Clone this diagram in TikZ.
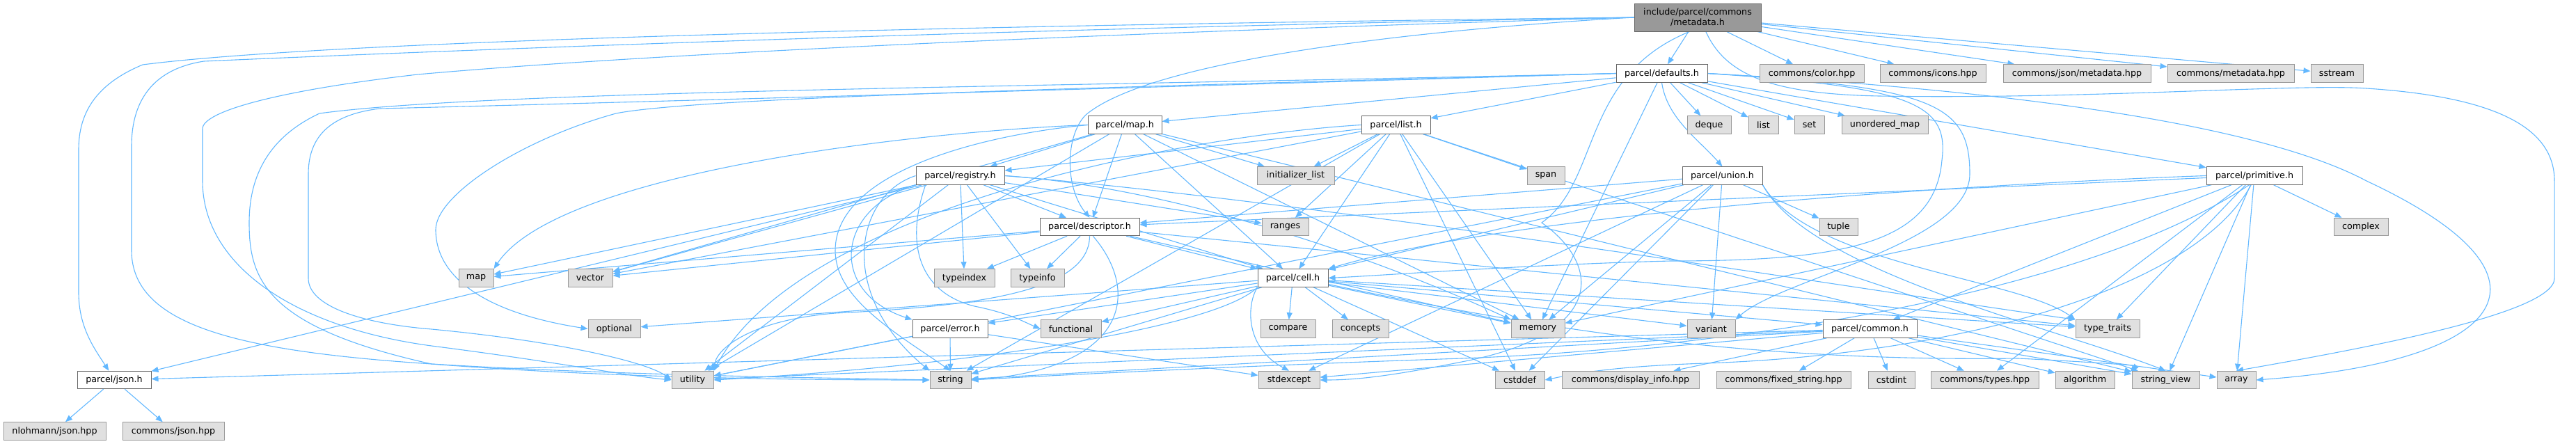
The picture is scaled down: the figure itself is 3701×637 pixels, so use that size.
\documentclass[tikz,border=0pt]{standalone}
\usepackage{fontspec}
\setmainfont{DejaVu Sans}
\usetikzlibrary{arrows.meta}
\pgfdeclarelayer{bg}
\pgfsetlayers{bg,main}
\definecolor{edgec}{HTML}{63B8FF}
\definecolor{sysfill}{HTML}{E0E0E0}
\definecolor{sysdraw}{HTML}{999999}
\definecolor{hdrdraw}{HTML}{666666}
\definecolor{rootfill}{HTML}{999999}
\newcommand\nfont{\fontsize{12.7}{15}\selectfont}
\tikzset{
 box/.style={rectangle, line width=1pt, minimum height=25.5pt, inner sep=0pt, font=\nfont, text=black},
 hdr/.style={box, draw=hdrdraw, fill=white},
 sys/.style={box, draw=sysdraw, fill=sysfill},
 rootbox/.style={box, draw=hdrdraw, fill=rootfill, align=center, minimum height=40pt},
 dep/.style={draw=edgec, line width=1.1pt, -{Triangle[length=10pt,width=8pt]}},
}
\begin{document}
\begin{tikzpicture}[x=1pt,y=-1pt]
\useasboundingbox (0,0) rectangle (3701,637);
% rank 0
\node[rootbox, minimum width=182pt] (M) at (2439,25) {include/parcel/commons\\/metadata.h};
% rank 1
\node[hdr, minimum width=131pt] (D) at (2387.5,105.5) {parcel/defaults.h};
\node[sys, minimum width=150pt] (color) at (2603,105.5) {commons/color.hpp};
\node[sys, minimum width=152pt] (icons) at (2777,105.5) {commons/icons.hpp};
\node[sys, minimum width=212pt] (jsonmeta) at (2984,105.5) {commons/json/metadata.hpp};
\node[sys, minimum width=182pt] (cmeta) at (3205,105.5) {commons/metadata.hpp};
\node[sys, minimum width=75pt] (sstream) at (3357.5,105.5) {sstream};
% rank 2
\node[hdr, minimum width=106pt] (maph) at (1616,179.5) {parcel/map.h};
\node[hdr, minimum width=99pt] (listh) at (2005.5,179.5) {parcel/list.h};
\node[sys, minimum width=63pt] (deque) at (2455.5,179.5) {deque};
\node[sys, minimum width=43pt] (list) at (2533.5,179.5) {list};
\node[sys, minimum width=43pt] (set) at (2599.5,179.5) {set};
\node[sys, minimum width=124pt] (umap) at (2708,179.5) {unordered\_map};
% rank 3
\node[hdr, minimum width=127pt] (registry) at (1379.5,252.5) {parcel/registry.h};
\node[sys, minimum width=111pt] (initlist) at (1861.5,252.5) {initializer\_list};
\node[sys, minimum width=54pt] (span) at (2221,252.5) {span};
\node[hdr, minimum width=115pt] (union) at (2474.5,252.5) {parcel/union.h};
\node[hdr, minimum width=138pt] (primitive) at (3239,252.5) {parcel/primitive.h};
% rank 4
\node[hdr, minimum width=143pt] (descriptor) at (1565.5,326) {parcel/descriptor.h};
\node[sys, minimum width=67pt] (ranges) at (1846.5,326) {ranges};
\node[sys, minimum width=55pt] (tuple) at (2641.5,326) {tuple};
\node[sys, minimum width=78pt] (complex) at (3392,326) {complex};
% rank 5
\node[sys, minimum width=50pt] (stdmap) at (684,399.5) {map};
\node[sys, minimum width=64pt] (vector) at (848,399.5) {vector};
\node[sys, minimum width=87pt] (typeindex) at (1385.5,399.5) {typeindex};
\node[sys, minimum width=77pt] (typeinfo) at (1490.5,399.5) {typeinfo};
\node[hdr, minimum width=101pt] (cell) at (1857.5,399.5) {parcel/cell.h};
% rank 6
\node[sys, minimum width=75pt] (optional) at (882.5,472.5) {optional};
\node[hdr, minimum width=108pt] (error) at (1365,472.5) {parcel/error.h};
\node[sys, minimum width=87pt] (functional) at (1538.5,472.5) {functional};
\node[sys, minimum width=79pt] (compare) at (1850.5,472.5) {compare};
\node[sys, minimum width=81pt] (concepts) at (1954.5,472.5) {concepts};
\node[sys, minimum width=77pt] (memory) at (2209.5,472.5) {memory};
\node[sys, minimum width=69pt] (variant) at (2458.5,472.5) {variant};
\node[hdr, minimum width=135pt] (common) at (2686.5,472.5) {parcel/common.h};
\node[sys, minimum width=92pt] (typetraits) at (3028,472.5) {type\_traits};
% rank 7
\node[hdr, minimum width=106pt] (json) at (164,546) {parcel/json.h};
\node[sys, minimum width=60pt] (utility) at (995,546) {utility};
\node[sys, minimum width=59pt] (string) at (1365.5,546) {string};
\node[sys, minimum width=88pt] (stdexcept) at (1852,546) {stdexcept};
\node[sys, minimum width=71pt] (cstddef) at (2183.5,546) {cstddef};
\node[sys, minimum width=197pt] (display) at (2342.5,546) {commons/display\_info.hpp};
\node[sys, minimum width=193pt] (fixed) at (2562.5,546) {commons/fixed\_string.hpp};
\node[sys, minimum width=67pt] (cstdint) at (2717.5,546) {cstdint};
\node[sys, minimum width=155pt] (types) at (2851.5,546) {commons/types.hpp};
\node[sys, minimum width=85pt] (algorithm) at (2995.5,546) {algorithm};
\node[sys, minimum width=97pt] (stringview) at (3111.5,546) {string\_view};
\node[sys, minimum width=56pt] (array) at (3213,546) {array};
% rank 8
\node[sys, minimum width=147pt] (nlohmann) at (78.5,619.5) {nlohmann/json.hpp};
\node[sys, minimum width=146pt] (cjson) at (249,619.5) {commons/json.hpp};

\begin{pgfonlayer}{bg}
\foreach \a/\b in {M/D, M/color, M/icons, M/jsonmeta, M/cmeta, M/sstream,
 D/maph, D/listh, D/deque, D/list, D/set, D/umap, D/primitive, D/memory,
 maph/registry, maph/initlist, maph/descriptor, maph/cell, maph/memory, maph/vector, maph/stringview, maph/utility,
 listh/registry, listh/initlist, listh/span, listh/ranges, listh/cell, listh/memory, listh/vector, listh/string, listh/cstddef, listh/stringview,
 registry/json, registry/descriptor, registry/typeindex, registry/typeinfo, registry/stdmap, registry/vector, registry/utility, registry/cell, registry/ranges,
 union/tuple, union/variant, union/cell, union/descriptor, union/memory, union/utility, union/cstddef, union/stdexcept,
 primitive/complex, primitive/common, primitive/descriptor, primitive/memory, primitive/typetraits, primitive/stringview, primitive/array, primitive/types,
 descriptor/stdmap, descriptor/vector, descriptor/typeindex, descriptor/typeinfo, descriptor/cell, descriptor/memory, descriptor/typetraits,
 cell/compare, cell/concepts, cell/error, cell/functional, cell/optional, cell/common, cell/memory, cell/variant, cell/typetraits, cell/string, cell/cstddef,
 error/string, error/stdexcept, error/utility,
 common/display, common/fixed, common/cstdint, common/types, common/algorithm, common/stringview, common/array, common/string, common/utility, common/stdexcept, common/json,
 json/nlohmann, json/cjson}
 \draw[dep] (\a) -- (\b);
% long loops from the root
\draw[dep] (M.west) .. controls (1500,35) and (500,55) .. (205,93) .. controls (140,120) and (113,160) .. (113,215) -- (113,420) .. controls (113,470) and (135,500) .. (json.120);
\draw[dep] (M.west) .. controls (1500,40) and (700,70) .. (293,88) .. controls (215,100) and (189,150) .. (189,210) -- (189,360) .. controls (189,470) and (350,505) .. (620,523) .. controls (900,540) and (1200,543) .. (string.west);
\draw[dep] (M.west) .. controls (1500,50) and (900,80) .. (600,107) .. controls (400,130) and (291,160) .. (291,185) -- (291,260) .. controls (291,380) and (420,470) .. (620,497) .. controls (800,520) and (900,540) .. (utility.west);
\draw[dep] (M.west) .. controls (2000,45) and (1650,90) .. (1560,165) .. controls (1530,195) and (1530,270) .. (descriptor.north);
\draw[dep] (M.240) .. controls (2270,110) and (2300,260) .. (2215,320) .. controls (2300,380) and (2310,480) .. (2100,520) .. controls (2000,540) and (1950,546) .. (stdexcept.east);
\draw[dep] (M.300) .. controls (2480,110) and (2550,135) .. (2700,138) .. controls (3000,143) and (3300,120) .. (3400,127) .. controls (3600,140) and (3670,190) .. (3670,260) -- (3670,400) .. controls (3670,450) and (3400,500) .. (array.north);
% long loops from defaults.h
\draw[dep] (D.west) .. controls (1500,125) and (700,130) .. (459,163) .. controls (380,200) and (358,260) .. (358,320) .. controls (358,400) and (380,470) .. (620,523) .. controls (900,545) and (1200,546) .. (string.west);
\draw[dep] (D.west) .. controls (1500,130) and (800,150) .. (546,156) .. controls (470,165) and (443,200) .. (443,250) -- (443,400) .. controls (443,440) and (520,465) .. (620,473) .. controls (800,490) and (930,520) .. (utility.west);
\draw[dep] (D.west) .. controls (1600,125) and (1000,140) .. (885,163) .. controls (750,200) and (626,280) .. (626,330) .. controls (626,400) and (700,450) .. (optional.west);
\draw[dep] (D.east) .. controls (2750,125) and (2800,150) .. (2790,230) .. controls (2780,350) and (2650,375) .. (2400,375) .. controls (2200,380) and (2000,395) .. (cell.east);
\draw[dep] (D.east) .. controls (2780,125) and (2830,150) .. (2830,250) .. controls (2830,350) and (2560,400) .. (variant.north east);
\draw[dep] (D.east) .. controls (2900,130) and (3250,180) .. (3400,260) .. controls (3700,400) and (3600,520) .. (array.east);
\draw[dep] (D.south) .. controls (2395,170) and (2440,200) .. (union.north);
% routed edges
\draw[dep] (maph.west) .. controls (1300,190) and (800,250) .. (stdmap.north east);
\draw[dep] (maph.west) .. controls (1400,195) and (1200,250) .. (1200,360) .. controls (1200,430) and (1290,480) .. (string.north);
\draw[dep] (listh.west) .. controls (1700,195) and (1150,300) .. (utility.north east);
\draw[dep] (registry.south west) .. controls (1200,300) and (1190,420) .. (error.north west);
\draw[dep] (registry.west) .. controls (1230,280) and (1200,420) .. (string.north west);
\draw[dep] (1330,265) .. controls (1300,350) and (1320,420) .. (1400,440) .. controls (1450,450) and (1470,462) .. (functional.west);
\draw[dep] (registry.east) .. controls (1700,270) and (2000,380) .. (memory.north west);
\draw[dep] (registry.east) .. controls (1900,290) and (2700,420) .. (typetraits.north west);
\draw[dep] (union.south east) .. controls (2600,380) and (2900,400) .. (typetraits.north west);
\draw[dep] (union.south east) .. controls (2600,390) and (2950,470) .. (stringview.north);
\draw[dep] (primitive.west) .. controls (2900,262) and (2200,300) .. (cell.north east);
\draw[dep] (primitive.240) .. controls (3000,420) and (2500,500) .. (2100,515) .. controls (1800,525) and (1500,540) .. (string.east);
\draw[dep] (primitive.250) .. controls (3150,420) and (2800,510) .. (2450,522) .. controls (2300,527) and (2250,540) .. (cstddef.east);
\draw[dep] (descriptor.290) .. controls (1640,420) and (1620,530) .. (string.east);
\draw[dep] (descriptor.south) .. controls (1565,420) and (1400,440) .. (1200,450) .. controls (1080,460) and (1030,500) .. (utility.north east);
\draw[dep] (cell.south west) .. controls (1790,440) and (1790,500) .. (stdexcept.north);
\draw[dep] (cell.south west) .. controls (1750,470) and (1400,525) .. (utility.east);
\draw[dep] (cell.-10) .. controls (2200,470) and (2500,520) .. (2900,515) .. controls (3000,520) and (3070,525) .. (stringview.north west);
\end{pgfonlayer}
\end{tikzpicture}
\end{document}
